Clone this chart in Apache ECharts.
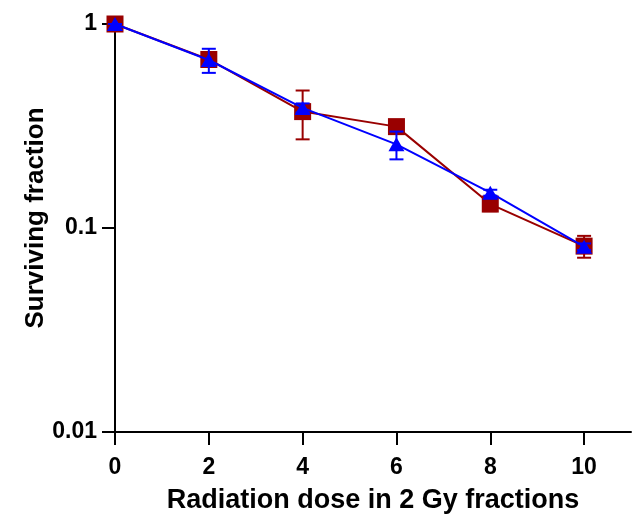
<!DOCTYPE html>
<html>
<head>
<meta charset="utf-8">
<title>Surviving fraction</title>
<script src="https://cdn.jsdelivr.net/npm/echarts@6/dist/echarts.min.js"></script>
<style>
    html, body { margin: 0; padding: 0; background: #fff; }
    #chart { width: 633px; height: 514px; }
</style>
</head>
<body>
<div id="chart"></div>
<script>
    // dose (Gy), 2 Gy fractions
    var doses = [0, 2, 4, 6, 8, 10];
    var xTicks = [0, 2, 4, 6, 8, 10];
    // red squares
    var redMean = [1, 0.67, 0.372, 0.314, 0.131, 0.0815];
    var redErr = [0, 0.03, 0.1, 0.02, 0.01, 0.01];
    // blue triangles
    var blueMean = [1, 0.666, 0.388, 0.257, 0.149, 0.081];
    var blueErr = [0, 0.09, 0.02, 0.04, 0.005, 0.003];

    var RED = '#990000';
    var BLUE = '#0000ff';
    var FONT = 'Liberation Sans, Arial, sans-serif';

    function points(means) {
        return doses.map(function (d, i) { return [d, means[i]]; });
    }
    function errRows(means, errs) {
        return doses.map(function (d, i) { return [d, means[i] - errs[i], means[i] + errs[i]]; });
    }
    function errorBars(color) {
        return function (params, api) {
            var lo = api.coord([api.value(0), api.value(1)]);
            var hi = api.coord([api.value(0), api.value(2)]);
            var half = 7;
            var style = { stroke: color, lineWidth: 2 };
            return {
                type: 'group',
                children: [
                    { type: 'line', shape: { x1: lo[0], y1: lo[1], x2: hi[0], y2: hi[1] }, style: style },
                    { type: 'line', shape: { x1: lo[0] - half, y1: lo[1], x2: lo[0] + half, y2: lo[1] }, style: style },
                    { type: 'line', shape: { x1: hi[0] - half, y1: hi[1], x2: hi[0] + half, y2: hi[1] }, style: style }
                ]
            };
        };
    }

    var chart = echarts.init(document.getElementById('chart'));
    chart.setOption({
        animation: false,
        backgroundColor: '#fff',
        grid: { left: 115, right: 2, top: 24, bottom: 82, outerBoundsMode: 'none' },
        xAxis: {
            type: 'value',
            min: 0,
            max: 11,
            interval: 2,
            name: 'Radiation dose in 2 Gy fractions',
            nameLocation: 'middle',
            nameGap: 55,
            nameTextStyle: { fontFamily: FONT, fontWeight: 'bold', fontSize: 27, color: '#000' },
            axisLine: { lineStyle: { color: '#000', width: 2 } },
            axisTick: { length: 13, lineStyle: { color: '#000', width: 2 }, customValues: xTicks },
            axisLabel: { fontFamily: FONT, fontWeight: 'bold', fontSize: 23, color: '#000', margin: 24, customValues: xTicks },
            splitLine: { show: false }
        },
        yAxis: {
            type: 'log',
            logBase: 10,
            min: 0.01,
            max: 1,
            name: 'Surviving fraction',
            nameLocation: 'middle',
            nameGap: 66,
            nameMoveOverlap: false,
            nameTextStyle: { fontFamily: FONT, fontWeight: 'bold', fontSize: 26, color: '#000', padding: [0, 0, 0, 20] },
            axisLine: { lineStyle: { color: '#000', width: 2 } },
            axisTick: { length: 13, lineStyle: { color: '#000', width: 2 } },
            axisLabel: { fontFamily: FONT, fontWeight: 'bold', fontSize: 23, color: '#000', margin: 18 },
            minorTick: { show: false },
            splitLine: { show: false }
        },
        series: [
            {
                type: 'line',
                data: points(redMean),
                symbol: 'rect',
                symbolSize: 17,
                clip: false,
                lineStyle: { color: RED, width: 2 },
                itemStyle: { color: RED },
                z: 2
            },
            {
                type: 'custom',
                data: errRows(redMean, redErr),
                renderItem: errorBars(RED),
                clip: false,
                z: 1
            },
            {
                type: 'line',
                data: points(blueMean),
                symbol: 'triangle',
                symbolSize: [16, 14],
                clip: false,
                lineStyle: { color: BLUE, width: 2 },
                itemStyle: { color: BLUE },
                z: 4
            },
            {
                type: 'custom',
                data: errRows(blueMean, blueErr),
                renderItem: errorBars(BLUE),
                clip: false,
                z: 3
            }
        ]
    });
</script>
</body>
</html>
